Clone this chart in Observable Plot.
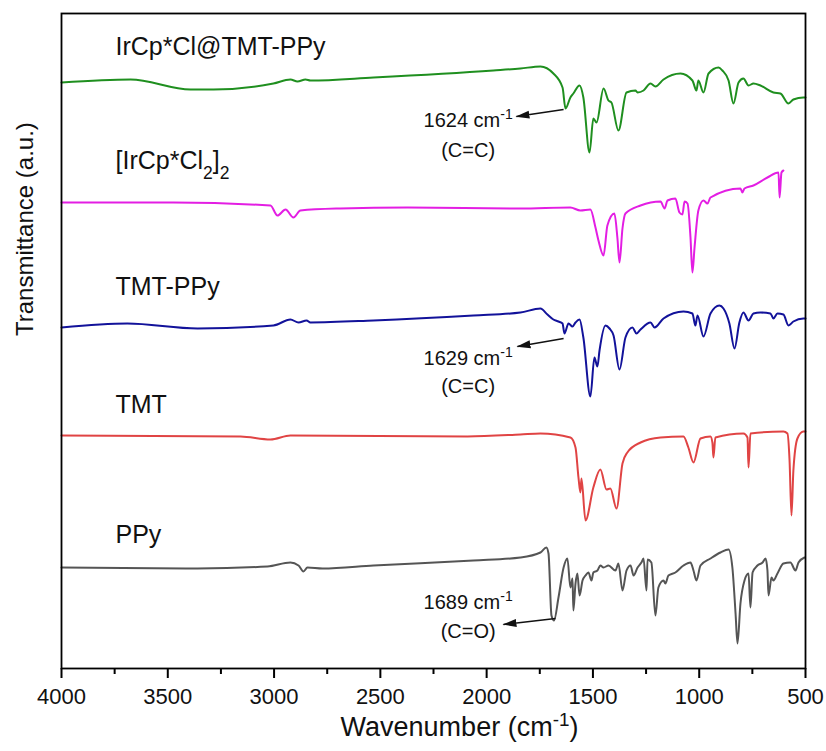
<!DOCTYPE html>
<html><head><meta charset="utf-8">
<script src="https://cdn.jsdelivr.net/npm/d3@7"></script>
<script src="https://cdn.jsdelivr.net/npm/@observablehq/plot@0.6"></script>
<style>
body{margin:0;background:#fff;}
#chart svg{font-family:"Liberation Sans",Arial,Helvetica,sans-serif;display:block;}
</style>
</head><body><div id="chart"></div>
<script>
// ---- data: [wavenumber (cm-1), transmittance (a.u., stacked)] ----
const irPPy = [[4000,58.6],[3675,58.9],[3393,57.9],[3285,57.9],[3003,58.5],[2923,58.9],[2890,58.7],[2852,58.9],[2829,58.8],[2532,59.1],[1968,59.8],[1841,60.0],[1747,60.2],[1686,59.5],[1643,58.1],[1629,56.0],[1606,57.1],[1592,57.5],[1563,58.3],[1545,57.1],[1516,51.6],[1498,55.0],[1483,54.6],[1450,58.0],[1427,56.8],[1413,56.6],[1380,53.8],[1342,57.6],[1300,57.8],[1290,57.6],[1262,57.8],[1229,58.5],[1206,58.2],[1168,58.9],[1088,59.5],[1032,58.8],[1013,57.8],[1004,58.8],[980,57.6],[956,59.5],[909,60.1],[891,59.8],[862,58.8],[839,56.5],[815,58.6],[792,59.0],[768,58.3],[745,58.5],[712,58.3],[651,57.6],[618,57.5],[580,56.5],[557,56.9],[510,57.1],[500,57.1]];
const irDimer = [[4000,46.6],[3473,46.6],[3017,46.3],[2984,45.3],[2946,45.9],[2909,45.1],[2876,45.8],[2688,46.0],[2372,46.1],[1841,46.0],[1606,46.1],[1559,45.8],[1512,45.9],[1488,44.1],[1474,42.8],[1450,41.3],[1432,44.3],[1399,45.5],[1385,43.1],[1375,40.6],[1361,44.0],[1347,45.5],[1276,46.3],[1182,46.7],[1163,46.0],[1149,46.8],[1112,47.0],[1093,45.6],[1079,45.4],[1069,46.7],[1055,46.5],[1041,43.1],[1032,39.6],[1022,42.1],[1004,45.8],[980,46.8],[961,46.5],[947,47.1],[806,48.0],[797,47.6],[787,48.0],[745,48.3],[679,49.1],[627,49.6],[622,47.1],[613,49.6],[604,49.8]];
const tmtPPy = [[4000,34.1],[3690,34.5],[3360,34.0],[3003,34.3],[2923,34.9],[2885,34.6],[2847,34.8],[2829,34.6],[2532,34.8],[2062,35.3],[1841,35.6],[1747,36.0],[1714,35.4],[1686,34.9],[1662,34.7],[1643,34.5],[1634,33.5],[1615,34.5],[1596,34.2],[1582,34.6],[1563,34.9],[1545,33.1],[1512,27.2],[1493,31.1],[1479,30.2],[1469,31.8],[1441,34.3],[1422,34.0],[1403,33.3],[1375,29.9],[1347,33.1],[1314,34.1],[1295,33.5],[1276,33.9],[1229,34.6],[1210,34.1],[1168,35.0],[1074,35.7],[1032,35.5],[1018,34.3],[1008,35.3],[980,33.2],[947,35.5],[905,36.3],[886,36.0],[858,34.5],[834,32.0],[811,34.6],[792,35.6],[768,34.8],[745,35.5],[712,35.6],[665,35.5],[651,35.0],[632,35.5],[604,35.4],[580,34.3],[557,34.7],[510,35.0],[500,35.0]];
const tmt = [[4000,23.3],[3158,23.2],[3017,22.9],[2923,23.3],[2090,23.2],[1841,23.4],[1747,23.5],[1606,23.1],[1582,22.1],[1568,19.1],[1559,17.6],[1554,19.0],[1535,14.8],[1498,18.1],[1465,19.9],[1436,17.9],[1418,18.0],[1389,16.0],[1361,20.5],[1338,21.6],[1276,22.6],[1182,23.1],[1074,23.2],[1051,22.1],[1027,20.6],[994,23.0],[947,23.2],[938,22.6],[933,21.1],[924,23.1],[792,23.5],[773,23.1],[768,20.1],[759,23.5],[604,23.7],[585,23.5],[575,20.8],[566,15.3],[557,19.8],[538,23.0],[510,23.7],[500,23.7]];
const ppy = [[4000,10.1],[3360,10.0],[3031,10.2],[2923,10.6],[2885,10.3],[2862,9.7],[2843,10.1],[2772,10.0],[2532,10.3],[2062,10.8],[1841,11.1],[1747,11.6],[1719,12.1],[1709,11.5],[1695,5.3],[1683,4.8],[1662,7.1],[1638,10.1],[1620,11.0],[1606,8.1],[1596,9.0],[1592,5.8],[1582,8.5],[1573,9.5],[1563,7.3],[1549,8.8],[1535,9.3],[1521,9.6],[1507,8.8],[1498,9.6],[1479,9.8],[1465,10.3],[1450,10.1],[1427,10.3],[1394,9.8],[1380,10.5],[1361,7.8],[1342,9.8],[1323,10.3],[1309,9.3],[1290,10.1],[1272,10.6],[1262,11.0],[1248,7.8],[1243,10.9],[1225,10.6],[1206,5.3],[1192,8.1],[1168,8.8],[1159,8.5],[1145,9.3],[1112,9.6],[1074,10.3],[1041,10.6],[1027,9.8],[1013,8.8],[994,10.3],[947,11.0],[900,11.6],[862,11.9],[844,10.1],[829,5.5],[820,2.5],[806,6.5],[787,8.8],[768,9.5],[759,6.1],[749,9.6],[726,10.3],[702,10.6],[688,11.0],[679,9.8],[674,7.3],[660,9.1],[651,8.8],[632,9.5],[604,10.5],[571,10.6],[547,9.8],[533,10.6],[505,11.1]];

const seriesNames = ["IrCp*Cl@TMT-PPy", "[IrCp*Cl2]2", "TMT-PPy", "TMT", "PPy"];
const seriesData = [irPPy, irDimer, tmtPPy, tmt, ppy];
const seriesColors = ["#1f8f1f", "#e31ee3", "#12129a", "#e04444", "#555555"];

const labelTexts = ["IrCp*Cl@TMT-PPy", "[IrCp*Cl_{2}]_{2}", "TMT-PPy", "TMT", "PPy"];
const labelWn = [3746, 3746, 3746, 3746, 3746];
const labelT = [62.15, 50.8, 38.15, 26.4, 13.4];

const annotTexts = ["1624 cm^{-1}", "(C=C)", "1629 cm^{-1}", "(C=C)", "1689 cm^{-1}", "(C=O)"];
const annotWn = [2087, 2087, 2087, 2087, 2087, 2087];
const annotT = [54.75, 51.8, 31.0, 28.2, 6.55, 3.65];

const arrowFromWn = [1638, 1638, 1676];
const arrowFromT = [55.9, 33.0, 5.0];
const arrowToWn = [1860, 1855, 1921];
const arrowToT = [55.2, 32.2, 4.4];

const xTicks = [4000, 3500, 3000, 2500, 2000, 1500, 1000, 500];
const xMinorTicks = [3750, 3250, 2750, 2250, 1750, 1250, 750];

// ---- build tables ----
const rows = seriesData.flatMap((s, i) => s.map(([wn, t]) => ({name: seriesNames[i], wn, t})));
const labels = labelTexts.map((text, i) => ({text, wn: labelWn[i], t: labelT[i]}));
const annots = annotTexts.map((text, i) => ({text, wn: annotWn[i], t: annotT[i]}));
const arrows = arrowFromWn.map((w, i) => ({x1: w, y1: arrowFromT[i], x2: arrowToWn[i], y2: arrowToT[i]}));

function filledArrow(color) {
  const m = d3.create("svg:marker")
    .attr("viewBox", "0 -5 14 10").attr("refX", 13).attr("refY", 0)
    .attr("markerWidth", 14).attr("markerHeight", 10)
    .attr("markerUnits", "userSpaceOnUse").attr("orient", "auto")
    .attr("fill", color).attr("stroke", "none");
  m.append("path").attr("d", "M0,-4L14,0L0,4Z");
  return m.node();
}

function makePlot(marker) {
  return Plot.plot({
    width: 826, height: 751,
    marginLeft: 61, marginRight: 21, marginTop: 13, marginBottom: 83,
    style: {fontFamily: "Liberation Sans, Arial, sans-serif", fontSize: "22px", color: "#111", background: "white", overflow: "visible"},
    x: {domain: [4000, 500]},
    y: {domain: [0, 65.5], axis: null},
    color: {domain: seriesNames, range: seriesColors},
    marks: [
      Plot.line(rows, {x: "wn", y: "t", z: "name", stroke: "name", strokeWidth: 2, curve: "monotone-x"}),
      Plot.frame({stroke: "#000", strokeWidth: 1.8}),
      // outward tick marks below the frame (major ~10px, minor ~6px)
      Plot.ruleX(xTicks, {x: d => d, y1: 0, y2: -1.0, stroke: "#000", strokeWidth: 2}),
      Plot.ruleX(xMinorTicks, {x: d => d, y1: 0, y2: -0.6, stroke: "#000", strokeWidth: 2}),
      Plot.axisX({ticks: xTicks, tickSize: 0, tickPadding: 20, tickFormat: d => String(d), label: null, fontSize: 22, fill: "#111"}),
      Plot.text(labels, {x: "wn", y: "t", text: "text", textAnchor: "start", fontSize: 25, fill: "#111"}),
      Plot.text(annots, {x: "wn", y: "t", text: "text", textAnchor: "middle", fontSize: 20, fill: "#111"}),
      Plot.link(arrows, {x1: "x1", y1: "y1", x2: "x2", y2: "y2", stroke: "#111", strokeWidth: 1.5, markerEnd: marker}),
      Plot.text(["Wavenumber (cm^{-1})"], {frameAnchor: "bottom", dy: 67, dx: 26, fontSize: 27, fill: "#111"}),
      Plot.text(["Transmittance (a.u.)"], {frameAnchor: "left", rotate: -90, dx: -36, dy: -5, fontSize: 24, fill: "#111"})
    ]
  });
}

let chart;
try { chart = makePlot(filledArrow); } catch (e) { chart = makePlot("arrow"); }

// rich text: ^{...} superscript, _{...} subscript
const NS = "http://www.w3.org/2000/svg";
chart.querySelectorAll("text").forEach(el => {
  const s = el.textContent;
  if (!/[\^_]\{/.test(s) || el.children.length) return;
  el.textContent = "";
  const re = /([\^_])\{([^}]*)\}|([^\^_]+)/g;
  let m;
  while ((m = re.exec(s))) {
    const t = document.createElementNS(NS, "tspan");
    if (m[1]) {
      t.textContent = m[2];
      t.setAttribute("baseline-shift", m[1] === "^" ? "super" : "sub");
      t.setAttribute("font-size", "70%");
    } else t.textContent = m[3];
    el.appendChild(t);
  }
});
document.getElementById("chart").appendChild(chart);
</script>
</body></html>
